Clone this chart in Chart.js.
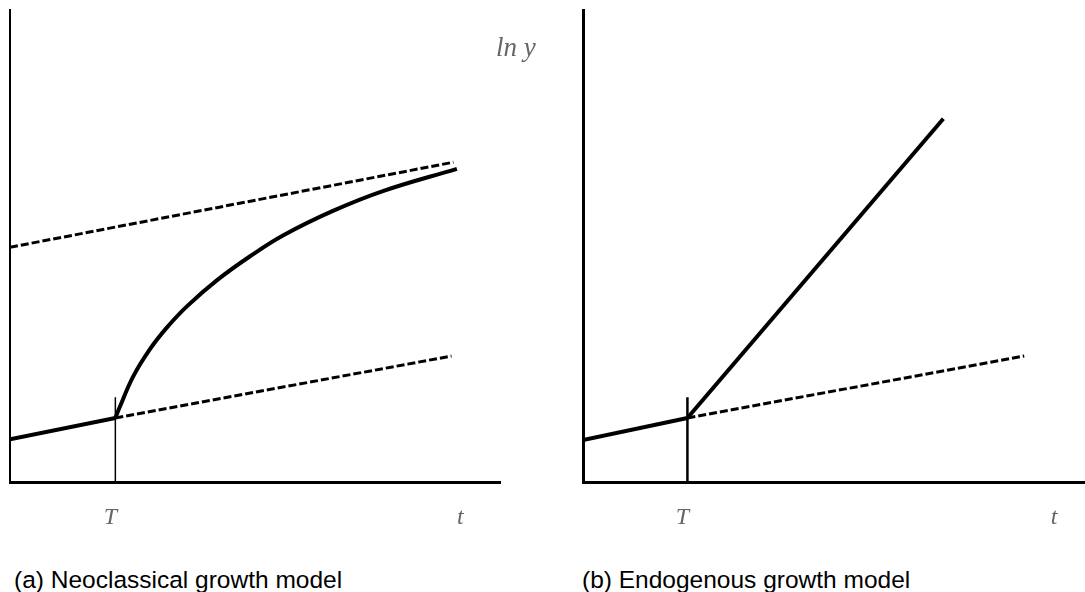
<!DOCTYPE html>
<html>
<head>
<meta charset="utf-8">
<script src="https://cdn.jsdelivr.net/npm/chart.js@4.4.1/dist/chart.umd.min.js"></script>
<style>
  body { margin: 0; background: #fff; width: 1085px; height: 592px; position: relative; overflow: hidden; }
  canvas { position: absolute; top: 0; }
  #chartA { left: 0; }
  #chartB { left: 560px; }
  .caption { position: absolute; top: 568px; font: 24.5px/24px "Liberation Sans", Arial, sans-serif; color: #000; white-space: nowrap; }
</style>
</head>
<body>
<canvas id="chartA" width="545" height="562"></canvas>
<canvas id="chartB" width="525" height="562"></canvas>
<div class="caption" style="left:14px">(a) Neoclassical growth model</div>
<div class="caption" style="left:582px">(b) Endogenous growth model</div>
<script>
// tick labels on the time axis
const tickLabels = ['T', 't'];
const tickValuesA = [21.5, 92.9];
const tickValuesB = [21.3, 97.1];

// (a) neoclassical growth model
const preShockA_x = [0, 21.5];
const preShockA_y = [9.2, 13.7];
const oldPathA_x = [21.5, 90.1];
const oldPathA_y = [13.7, 26.8];
const newPathA_x = [0, 90.5];
const newPathA_y = [49.8, 67.8];
const transitionA_x = [21.5, 22.4, 25.1, 28.6, 32.0, 36.1, 42.2, 49.0, 55.7, 65.9, 76.1, 91.2];
const transitionA_y = [13.7, 16.0, 22.4, 28.3, 32.8, 37.3, 42.8, 47.9, 52.3, 57.5, 61.7, 66.4];
const shockMarkA_y = [0, 18.1];

// (b) endogenous growth model
const preShockB_x = [0, 21.3];
const preShockB_y = [9.0, 13.7];
const oldPathB_x = [21.3, 90.0];
const oldPathB_y = [13.7, 26.8];
const newPathB_x = [21.3, 73.5];
const newPathB_y = [13.7, 77.0];
const shockMarkB_y = [0, 18.1];

function pts(xs, ys) {
    return xs.map((x, i) => ({ x: x, y: ys[i] }));
}

function line(data, width, dash, extra) {
    return Object.assign({
        data: data,
        borderColor: '#000',
        borderWidth: width,
        borderDash: dash || [],
        pointRadius: 0,
        fill: false,
        showLine: true
    }, extra || {});
}

const lnYLabel = {
    id: 'lnYLabel',
    afterDraw(chart, args, opts) {
        if (!opts.show) return;
        const ctx = chart.ctx;
        ctx.save();
        ctx.font = 'italic 27px "Liberation Serif", serif';
        ctx.fillStyle = '#666';
        ctx.textBaseline = 'alphabetic';
        ctx.fillText('ln y', chart.chartArea.right - 4, chart.chartArea.top + 46);
        ctx.restore();
    }
};

function makeChart(id, datasets, xMax, tickValues, pad, yAxisWidth, showLnY) {
    return new Chart(document.getElementById(id), {
        type: 'scatter',
        data: { datasets: datasets },
        plugins: [lnYLabel],
        options: {
            responsive: false,
            animation: false,
            devicePixelRatio: 1,
            layout: { padding: pad },
            plugins: {
                legend: { display: false },
                tooltip: { enabled: false },
                lnYLabel: { show: showLnY }
            },
            scales: {
                x: {
                    type: 'linear',
                    min: 0,
                    max: xMax,
                    grid: { display: false, drawTicks: false },
                    border: { display: true, color: '#000', width: 3 },
                    afterBuildTicks: function(scale) {
                        scale.ticks = tickValues.map(v => ({ value: v }));
                    },
                    ticks: {
                        autoSkip: false,
                        maxRotation: 0,
                        padding: 21,
                        labelOffset: -5,
                        color: '#666',
                        font: { family: '"Liberation Serif", serif', style: 'italic', size: 24 },
                        callback: function(value, index) { return tickLabels[index]; }
                    }
                },
                y: {
                    type: 'linear',
                    min: 0,
                    max: 100,
                    grid: { display: false, drawTicks: false },
                    border: { display: true, color: '#000', width: yAxisWidth },
                    ticks: { display: false }
                }
            }
        }
    });
}

makeChart('chartA', [
    line(pts(newPathA_x, newPathA_y), 3, [8, 3]),
    line(pts(oldPathA_x, oldPathA_y), 3, [8, 3]),
    line(pts(preShockA_x, preShockA_y), 4),
    line(pts(transitionA_x, transitionA_y), 4, [], { tension: 0.4 }),
    line(pts([tickValuesA[0], tickValuesA[0]], shockMarkA_y), 1.5)
], 100, tickValuesA, { left: 10, top: 10, right: 45, bottom: 8.5 }, 2, true);

makeChart('chartB', [
    line(pts(oldPathB_x, oldPathB_y), 3, [8, 3]),
    line(pts(preShockB_x, preShockB_y), 4),
    line(pts(newPathB_x, newPathB_y), 4),
    line(pts([tickValuesB[0], tickValuesB[0]], shockMarkB_y), 2.5)
], 102.4, tickValuesB, { left: 23, top: 10, right: 0, bottom: 8.5 }, 3, false);
</script>
</body>
</html>
